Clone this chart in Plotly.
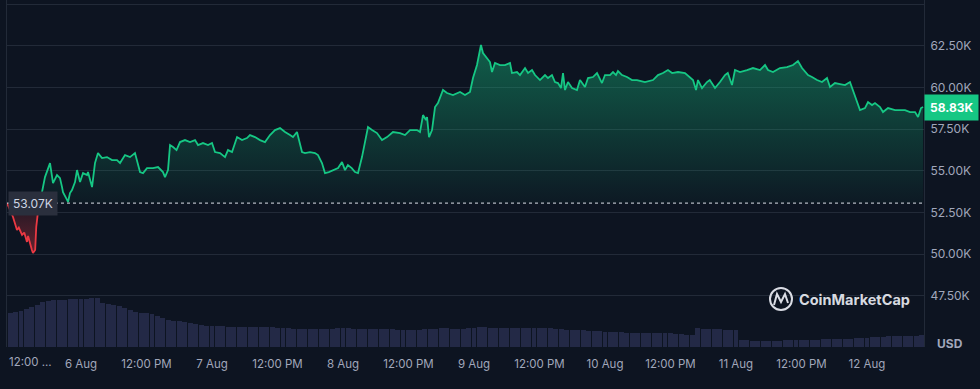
import numpy as np
import pandas as pd
import plotly.graph_objects as go

# ---------------- data ----------------
# price samples: hours since 2024-08-05 00:00 and BTC price in USD
hours = [
    10.44, 11.54, 12.27, 12.6, 13.2, 13.6, 14.1, 14.3, 15.0, 15.2,
    15.6, 15.8, 16.1, 16.5, 16.85, 17.40, 18.32, 18.69, 18.87, 19.60,
    20.15, 20.52, 20.70, 21.44, 21.62, 21.98, 22.35, 22.90, 23.27, 23.82,
    24.37, 25.10, 25.28, 26.02, 26.56, 27.11, 27.85, 28.76, 29.68, 30.60,
    31.15, 32.06, 32.98, 33.89, 34.26, 34.81, 35.36, 36.09, 37.19, 38.11,
    39.02, 39.39, 39.94, 40.31, 40.86, 41.5, 42.14, 43.05, 43.97, 44.89,
    45.44, 46.35, 47.27, 48.00, 48.55, 49.47, 50.38, 50.93, 51.67, 52.59,
    53.50, 54.41, 54.96, 55.88, 56.79, 57.71, 58.63, 59.54, 60.46, 61.38,
    62.29, 62.84, 63.57, 64.49, 65.04, 65.95, 66.87, 67.42, 68.15, 68.70,
    69.4, 70.17, 71.1, 71.82, 72.37, 72.9, 73.6, 74.20, 74.75, 75.48,
    76.03, 76.58, 77.32, 78.23, 79.15, 80.07, 81.16, 82.45, 83.36, 84.28,
    85.56, 86.11, 86.66, 87.21, 87.4, 87.76, 88.31, 88.86, 89.4, 90.32,
    91.06, 92.15, 93.44, 94.35, 95.27, 95.82, 96.55, 97.28, 97.65, 98.38,
    98.93, 99.30, 99.85, 100.76, 101.68, 102.60, 102.96, 103.88, 104.43, 105.35,
    105.90, 106.63, 107.18, 108.09, 109.01, 109.56, 110.29, 110.84, 111.39, 111.94,
    112.31, 112.68, 113.22, 113.96, 114.87, 115.42, 116.34, 116.89, 117.80, 118.54,
    119.45, 120.00, 120.92, 121.47, 122.02, 122.38, 123.12, 124.03, 124.95, 125.86,
    127.33, 128.80, 129.71, 130.63, 131.54, 132.3, 133.38, 134.66, 135.58, 136.13,
    136.68, 137.04, 137.78, 138.69, 139.2, 140.16, 141.07, 141.99, 142.5, 143.27,
    143.82, 144.74, 146.02, 147.12, 148.40, 149.32, 149.87, 150.78, 152.06, 153.35,
    154.45, 155.36, 156.10, 157.20, 157.93, 158.85, 159.76, 160.68, 161.23, 162.14,
    163.06, 163.98, 164.89, 165.44, 166.17, 166.72, 167.64, 168.19, 168.93, 169.47,
    170.39, 170.94, 171.86, 173.14, 174.06, 174.97, 175.89, 176.81, 177.36, 177.91,
    178.28,
]
prices_k = [
    53.07, 52.24, 51.46, 51.60, 51.16, 51.30, 50.74, 51.10, 50.26, 50.08,
    50.26, 51.64, 52.50, 53.50, 53.73, 54.63, 55.47, 54.75, 54.27, 54.75,
    54.57, 54.03, 53.73, 53.26, 53.14, 53.67, 53.85, 54.33, 55.05, 54.33,
    54.87, 54.75, 54.93, 54.03, 55.47, 56.07, 55.77, 55.83, 55.65, 55.65,
    55.47, 55.95, 55.83, 56.07, 55.65, 54.93, 54.87, 55.17, 55.17, 55.23,
    54.93, 54.63, 55.05, 56.55, 56.43, 56.25, 56.73, 56.85, 56.73, 56.85,
    56.55, 56.67, 56.55, 56.67, 56.13, 56.07, 55.83, 56.25, 56.13, 57.03,
    56.85, 56.97, 57.15, 57.03, 56.85, 56.73, 57.15, 57.45, 57.57, 57.33,
    57.15, 57.03, 57.33, 56.13, 56.07, 56.13, 56.07, 55.95, 55.47, 54.87,
    54.93, 55.05, 55.17, 55.53, 55.05, 55.35, 55.17, 54.93, 54.87, 55.83,
    56.85, 57.63, 57.45, 57.27, 56.85, 57.03, 57.33, 57.27, 57.15, 57.45,
    57.45, 57.33, 58.35, 58.05, 58.23, 57.03, 57.45, 58.83, 59.07, 59.85,
    59.67, 59.55, 59.73, 59.55, 59.73, 60.57, 61.35, 62.55, 62.07, 61.77,
    61.53, 60.93, 61.47, 61.35, 61.35, 61.47, 60.87, 60.93, 60.75, 61.17,
    60.87, 61.05, 60.75, 60.45, 60.75, 60.57, 60.75, 60.33, 60.27, 59.97,
    60.87, 59.85, 60.33, 59.97, 59.85, 60.45, 60.03, 60.57, 60.63, 60.87,
    60.27, 60.75, 60.75, 60.93, 60.75, 60.99, 60.75, 60.63, 60.45, 60.45,
    60.33, 60.45, 60.75, 60.87, 61.05, 60.87, 60.93, 60.87, 60.63, 60.45,
    59.85, 60.45, 59.97, 60.33, 60.45, 59.97, 60.33, 60.75, 60.87, 60.15,
    61.05, 60.93, 61.05, 61.17, 61.05, 61.35, 61.05, 60.93, 61.17, 61.23,
    61.35, 61.59, 61.17, 60.75, 60.63, 60.45, 60.33, 60.57, 60.03, 60.27,
    60.21, 60.15, 60.33, 59.85, 59.13, 58.65, 58.77, 59.13, 58.95, 59.07,
    58.83, 58.53, 58.77, 58.65, 58.65, 58.65, 58.53, 58.53, 58.23, 58.77,
    58.83,
]
# hourly 24h-volume bars (billion USD), starting 2024-08-05 11:00
volume_b = [
    68, 70, 72, 76, 80, 84, 90, 92, 94, 94,
    95, 96, 96, 96, 97, 98, 98, 88, 86, 84,
    82, 78, 74, 70, 68, 68, 66, 62, 58, 54,
    52, 52, 50, 48, 46, 44, 42, 42, 42, 42,
    41, 41, 41, 41, 40, 40, 40, 40, 40, 39,
    38, 38, 37, 36, 36, 36, 36, 36, 36, 36,
    38, 38, 38, 36, 37, 36, 36, 36, 36, 36,
    36, 35, 35, 34, 34, 34, 36, 37, 37, 38,
    38, 37, 36, 36, 38, 39, 40, 40, 39, 39,
    39, 39, 39, 39, 39, 39, 38, 38, 38, 38,
    37, 36, 35, 35, 34, 34, 33, 33, 32, 31,
    30, 30, 30, 29, 29, 29, 29, 28, 28, 28,
    28, 28, 27, 26, 25, 24, 38, 37, 37, 36,
    36, 35, 35, 34, 14, 14, 13, 12, 12, 13,
    13, 13, 14, 14, 14, 14, 15, 15, 15, 16,
    16, 16, 16, 16, 17, 18, 18, 19, 20, 20,
    21, 22, 22, 22, 23, 23, 23, 24,
]
open_price = 53070          # reference (first) price
last_price = 58830
x_tick_days = ["2024-08-06", "2024-08-07", "2024-08-08", "2024-08-09",
               "2024-08-10", "2024-08-11", "2024-08-12"]
x_day_labels = ["6 Aug", "7 Aug", "8 Aug", "9 Aug", "10 Aug", "11 Aug", "12 Aug"]
y_ticks = [47500, 50000, 52500, 55000, 57500, 60000, 62500, 65000]
y_labels = ["47.50K", "50.00K", "52.50K", "55.00K", "57.50K", "60.00K", "62.50K", ""]

# ---------------- styles ----------------
BG = "#0d1421"
GREEN = "#16c784"
RED = "#ea3943"
GRID = "#222a38"
TXT = "#a1a7bb"
FONT = "Inter, Roboto, sans-serif"

day0 = pd.Timestamp("2024-08-05")
n = min(len(hours), len(prices_k))
h = np.array(hours[:n], dtype=float)
p = np.array(prices_k[:n], dtype=float) * 1000.0
B = float(open_price)

# insert crossing points with the reference price
hx, py = [], []
for i in range(n):
    if i > 0 and (p[i - 1] - B) * (p[i] - B) < 0:
        f = (B - p[i - 1]) / (p[i] - p[i - 1])
        hx.append(h[i - 1] + f * (h[i] - h[i - 1]))
        py.append(B)
    hx.append(h[i])
    py.append(p[i])
hx = np.array(hx)
py = np.array(py)
tx = day0 + pd.to_timedelta(hx, unit="h")

green_line = np.where(py >= B, py, np.nan)
red_line = np.where(py <= B, py, np.nan)
green_fill = np.maximum(py, B)
red_fill = np.minimum(py, B)
base_arr = np.full_like(py, B)

vol_t = pd.date_range("2024-08-05 11:00", periods=len(volume_b), freq="h")

fig = go.Figure()
fig.add_trace(go.Bar(x=vol_t, y=volume_b, yaxis="y2", width=3600000 * 0.9,
                     marker=dict(color="#232946", line=dict(width=0)),
                     hoverinfo="skip", showlegend=False))
fig.add_trace(go.Scatter(x=tx, y=base_arr, mode="lines", line=dict(width=0),
                         hoverinfo="skip", showlegend=False))
fig.add_trace(go.Scatter(x=tx, y=green_fill, mode="lines", line=dict(width=0),
                         fill="tonexty",
                         fillgradient=dict(type="vertical", start=B, stop=62600,
                                           colorscale=[[0, "rgba(22,199,132,0.03)"],
                                                       [1, "rgba(22,199,132,0.42)"]]),
                         hoverinfo="skip", showlegend=False))
fig.add_trace(go.Scatter(x=tx, y=base_arr, mode="lines", line=dict(width=0),
                         hoverinfo="skip", showlegend=False))
fig.add_trace(go.Scatter(x=tx, y=red_fill, mode="lines", line=dict(width=0),
                         fill="tonexty",
                         fillgradient=dict(type="vertical", start=50000, stop=B,
                                           colorscale=[[0, "rgba(234,57,67,0.40)"],
                                                       [1, "rgba(234,57,67,0.08)"]]),
                         hoverinfo="skip", showlegend=False))
fig.add_trace(go.Scatter(x=tx, y=green_line, mode="lines",
                         line=dict(color=GREEN, width=1.8), connectgaps=False,
                         showlegend=False))
fig.add_trace(go.Scatter(x=tx, y=red_line, mode="lines",
                         line=dict(color=RED, width=1.8), connectgaps=False,
                         showlegend=False))

# x ticks: days and noons
tickvals, ticktext = [], []
for d, lab in zip(x_tick_days, x_day_labels):
    tickvals.append(pd.Timestamp(d))
    ticktext.append(lab)
    tickvals.append(pd.Timestamp(d) + pd.Timedelta(hours=12))
    ticktext.append("12:00 PM")

t_start = day0 + pd.Timedelta(hours=10.44)
t_end = day0 + pd.Timedelta(hours=178.45)

W, H = 980, 389
ML, MR, MT, MB = 7, 56, 0, 42
PW, PH = W - ML - MR, H - MT - MB


def px(xp):
    return (xp - ML) / PW


def py_(yp):
    return (H - MB - yp) / PH


fig.update_layout(
    width=W, height=H,
    margin=dict(l=ML, r=MR, t=MT, b=MB, autoexpand=False),
    paper_bgcolor=BG, plot_bgcolor=BG,
    font=dict(family=FONT, color=TXT, size=12),
    bargap=0,
    xaxis=dict(type="date", range=[t_start, t_end], tickvals=tickvals, ticktext=ticktext,
               showgrid=False, zeroline=False, showline=False, ticks="",
               ticklabelstandoff=8,
               tickfont=dict(family=FONT, size=11.5, color=TXT)),
    yaxis=dict(side="right", range=[44440, 65250], tickvals=y_ticks, ticktext=y_labels,
               showgrid=True, gridcolor=GRID, gridwidth=1, zeroline=False,
               showline=True, mirror=True, linecolor=GRID, linewidth=1, ticks="",
               ticklabelstandoff=3,
               tickfont=dict(family=FONT, size=12, color=TXT)),
    yaxis2=dict(overlaying="y", range=[0, 700], visible=False),
    showlegend=False,
)

# dotted reference line at opening price
fig.add_shape(type="line", xref="paper", x0=0, x1=1, yref="y", y0=B, y1=B,
              line=dict(color="rgba(220,224,232,0.8)", width=1.2, dash="dot"))

# opening price label
fig.add_annotation(xref="paper", x=0, xanchor="left", xshift=1, yref="y", y=B,
                   text=f"{open_price / 1000:.2f}K", showarrow=False,
                   font=dict(family=FONT, size=12, color="#cfd6e4"),
                   bgcolor="#2a2f3d", borderpad=4)
# last price label
fig.add_annotation(xref="paper", x=1, xanchor="left", xshift=0, yref="y", y=last_price,
                   text=f"<b>{last_price / 1000:.2f}K</b>", showarrow=False,
                   font=dict(family=FONT, size=12, color="#ffffff"),
                   bgcolor=GREEN, borderpad=5)
# truncated first tick label
fig.add_annotation(xref="paper", x=0, xanchor="left", xshift=0, yref="paper", y=py_(362),
                   yanchor="middle", text="12:00 ...", showarrow=False,
                   font=dict(family=FONT, size=11.5, color=TXT))
# currency label
fig.add_annotation(xref="paper", x=px(950), xanchor="center", yref="paper", y=py_(343),
                   yanchor="middle", text="<b>USD</b>", showarrow=False,
                   font=dict(family=FONT, size=12, color=TXT))
# watermark
fig.add_annotation(xref="paper", x=px(854), xanchor="center", yref="paper", y=py_(299),
                   yanchor="middle", text="<b>CoinMarketCap</b>", showarrow=False,
                   font=dict(family=FONT, size=14.5, color="rgba(235,238,245,0.92)"))
cx, cy, r = 781, 299, 11
fig.add_shape(type="circle", xref="paper", yref="paper",
              x0=px(cx - r), x1=px(cx + r), y0=py_(cy + r), y1=py_(cy - r),
              line=dict(color="rgba(235,238,245,0.92)", width=2))
m_pts = [(774, 305), (777, 294), (781, 302), (785, 294), (788, 303)]
path = "M " + " L ".join(f"{px(a):.5f},{py_(b):.5f}" for a, b in m_pts)
fig.add_shape(type="path", xref="paper", yref="paper", path=path,
              line=dict(color="rgba(235,238,245,0.92)", width=2))

fig.write_html("out.html", config={"displayModeBar": False},
               post_script="document.body.style.margin='0';")
